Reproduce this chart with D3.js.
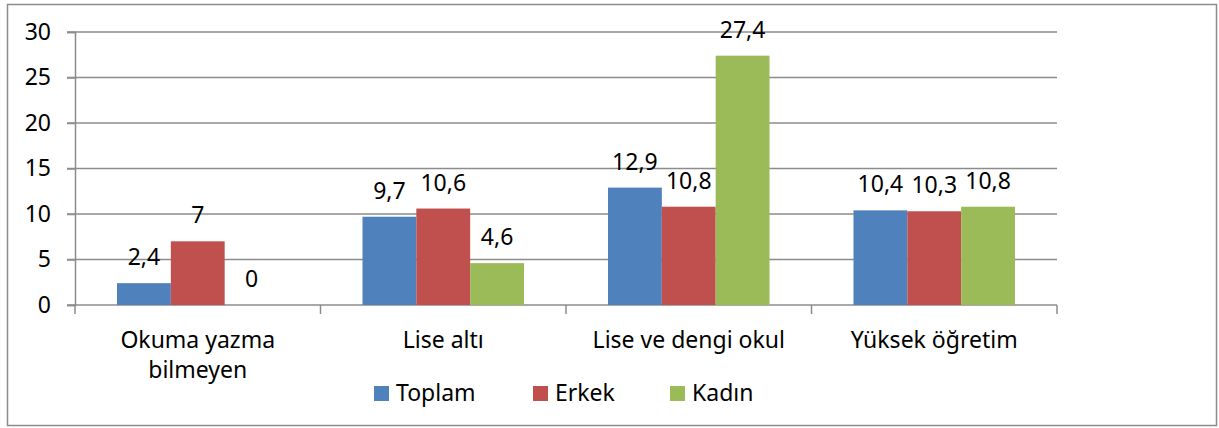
<!DOCTYPE html>
<html>
<head>
<meta charset="utf-8">
<script src="https://cdn.jsdelivr.net/npm/d3@7"></script>
<style>
  body { margin: 0; background: #fff; }
  svg text { font-family: "Noto Sans", "Open Sans", sans-serif; fill: #000; }
</style>
</head>
<body>
<div id="chart"></div>
<script>
const categories = ["Okuma yazma bilmeyen", "Lise altı", "Lise ve dengi okul", "Yüksek öğretim"];
const series = ["Toplam", "Erkek", "Kadın"];
const toplam = [2.4, 9.7, 12.9, 10.4];
const erkek = [7, 10.6, 10.8, 10.3];
const kadin = [0, 4.6, 27.4, 10.8];
const yTicks = [0, 5, 10, 15, 20, 25, 30];
const colors = ["#4f81bd", "#c0504d", "#9bbb59"];

const width = 1219, height = 428;
const margin = {left: 75, right: 162, top: 32, bottom: 123};
const fs = 23;

const svg = d3.select("#chart").append("svg")
    .attr("width", width).attr("height", height);

// cerceve
svg.append("rect")
    .attr("x", 7.5).attr("y", 4.5)
    .attr("width", 1209).attr("height", 421)
    .attr("fill", "none").attr("stroke", "#8c8c8c").attr("stroke-width", 1.5);

const x0 = d3.scaleBand().domain(categories)
    .range([margin.left, width - margin.right]).paddingInner(0).paddingOuter(0);
const x1 = d3.scaleBand().domain(series)
    .range([0, x0.bandwidth()]).paddingOuter(0.78).paddingInner(0);
const y = d3.scaleLinear().domain([0, 30]).range([height - margin.bottom, margin.top]);
const color = d3.scaleOrdinal().domain(series).range(colors);

const rows = categories.map((c, i) => ({cat: c, vals: [toplam[i], erkek[i], kadin[i]]}));

// grid
svg.append("g").selectAll("line")
    .data(yTicks.filter(d => d > 0)).enter()
    .append("line")
    .attr("x1", margin.left - 8).attr("x2", width - margin.right)
    .attr("y1", d => y(d)).attr("y2", d => y(d))
    .attr("stroke", "#8c8c8c").attr("stroke-width", 1.5);

// y ekseni
const yAxis = svg.append("g").attr("transform", `translate(${margin.left},0)`)
    .call(d3.axisLeft(y).tickValues(yTicks).tickSize(8).tickPadding(16));
yAxis.select(".domain").attr("stroke", "#8c8c8c").attr("stroke-width", 1.5);
yAxis.selectAll(".tick line").attr("stroke", "#8c8c8c").attr("stroke-width", 1.5);
yAxis.selectAll(".tick text").attr("font-size", fs).attr("font-family", "Noto Sans");

// x ekseni
const xAxis = svg.append("g").attr("transform", `translate(0,${y(0)})`);
xAxis.append("line")
    .attr("x1", margin.left - 8).attr("x2", width - margin.right)
    .attr("stroke", "#8c8c8c").attr("stroke-width", 1.5);
xAxis.selectAll(".cb")
    .data(d3.range(categories.length + 1)).enter()
    .append("line")
    .attr("x1", i => margin.left + i * x0.bandwidth())
    .attr("x2", i => margin.left + i * x0.bandwidth())
    .attr("y1", 0).attr("y2", 9)
    .attr("stroke", "#8c8c8c").attr("stroke-width", 1.5);

// kategori etiketleri
const catLines = {"Okuma yazma bilmeyen": ["Okuma yazma", "bilmeyen"]};
svg.append("g").selectAll("text")
    .data(categories).enter()
    .append("text")
    .attr("x", d => x0(d) + x0.bandwidth() / 2)
    .attr("y", y(0) + 43)
    .attr("text-anchor", "middle")
    .attr("font-size", fs)
    .each(function (d) {
        const lines = catLines[d] || [d];
        d3.select(this).selectAll("tspan").data(lines).enter()
            .append("tspan")
            .attr("x", x0(d) + x0.bandwidth() / 2)
            .attr("dy", (l, i) => i === 0 ? 0 : 30)
            .text(l => l);
    });

// cubuklar
const groups = svg.append("g").selectAll("g")
    .data(rows).enter()
    .append("g")
    .attr("transform", d => `translate(${x0(d.cat)},0)`);

groups.selectAll("rect")
    .data(d => d.vals.map((v, i) => ({s: series[i], v: v}))).enter()
    .append("rect")
    .attr("x", d => x1(d.s))
    .attr("y", d => y(d.v))
    .attr("width", x1.bandwidth())
    .attr("height", d => y(0) - y(d.v))
    .attr("fill", d => color(d.s));

groups.selectAll("text")
    .data(d => d.vals.map((v, i) => ({s: series[i], v: v}))).enter()
    .append("text")
    .attr("x", d => x1(d.s) + x1.bandwidth() / 2)
    .attr("y", d => y(d.v) - 18)
    .attr("text-anchor", "middle")
    .attr("font-size", fs)
    .text(d => String(d.v).replace(".", ","));

// legend
const legendX = [374, 533, 670];
const legend = svg.append("g");
legend.selectAll("rect")
    .data(series).enter()
    .append("rect")
    .attr("x", (d, i) => legendX[i]).attr("y", 386)
    .attr("width", 15).attr("height", 15)
    .attr("fill", d => color(d));
legend.selectAll("text")
    .data(series).enter()
    .append("text")
    .attr("x", (d, i) => legendX[i] + 22).attr("y", 401)
    .attr("font-size", fs)
    .text(d => d);
</script>
</body>
</html>
